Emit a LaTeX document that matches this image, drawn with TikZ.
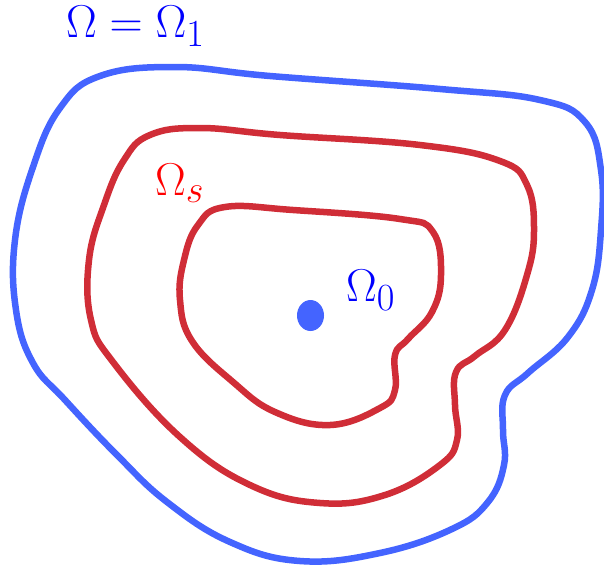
\documentclass[tikz,border=0pt]{standalone}
\usepackage{graphicx}
\definecolor{curveblue}{RGB}{68,100,255}
\definecolor{curvered}{RGB}{208,45,55}
\definecolor{textblue}{RGB}{0,0,255}
\definecolor{textred}{RGB}{255,0,0}
\newcommand{\bigtxt}[1]{\scalebox{1.85}{\Huge #1}}
\tikzset{
  outer/.style={draw=curveblue, line width=6.5pt, line join=round},
  inner/.style={draw=curvered, line width=6.5pt, line join=round},
  lbl/.style={inner sep=0pt}
}
\begin{document}
\begin{tikzpicture}[x=1pt,y=-1pt]
\useasboundingbox (0,0) rectangle (604,565);
% outer boundary Omega
\draw[outer] plot[smooth cycle, tension=0.7] coordinates {
 (270,76) (440,89) (540,100) (585,122) (601,170) (601,230) (592,290)
 (568,337) (528,373) (505,395) (503,430) (504,465)
 (488,502) (452,529) (380,553) (300,561) (230,542) (167,502) (117,455)
 (65,400) (33,363) (16,310) (15,240) (33,167) (60,108)
 (100,76) (175,67)};
% middle Omega_s
\draw[inner] plot[smooth cycle, tension=0.7] coordinates {
 (280,135) (420,145) (500,161) (527,185) (534,230) (527,275)
 (505,330) (475,356) (456,372) (455,405) (457,440) (440,465)
 (385,495) (320,503) (250,485) (180,437) (113,362)
 (91,320) (89,260) (104,205) (124,160) (150,135) (200,128)};
% inner contour
\draw[inner] plot[smooth cycle, tension=0.7] coordinates {
 (293,210) (400,219) (433,232) (441,275) (432,312) (408,339)
 (395,355) (395,390) (380,408) (330,425) (275,412)
 (233,382) (192,341) (180,300) (184,260) (198,225) (225,207)};
% source point
\fill[curveblue] (310.5,315.5) ellipse [x radius=13.5, y radius=15.5];
% labels
\node[lbl, text=textblue, anchor=south west] (omega) at (66,47) {\bigtxt{$\Omega=\Omega_1$}};
\node[lbl, text=textred, anchor=south west] (omegas) at (155,203) {\bigtxt{$\Omega_s$}};
\node[lbl, text=textblue, anchor=south west] (omega0) at (346,311) {\bigtxt{$\Omega_0$}};
\end{tikzpicture}
\end{document}
